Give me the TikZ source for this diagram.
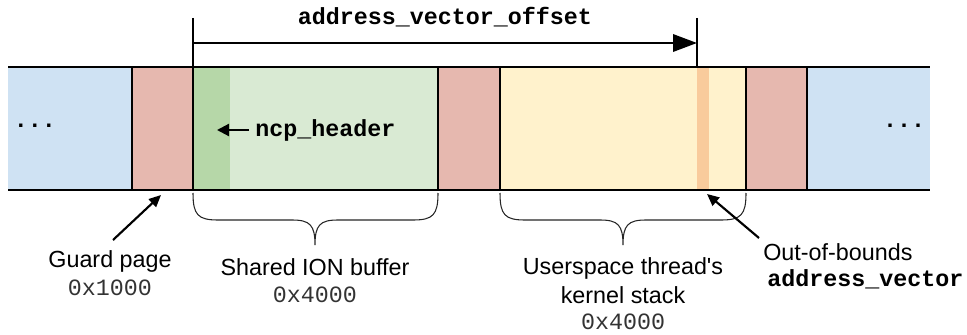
\documentclass[tikz,border=0pt]{standalone}
\usepackage{fontspec}
\setmainfont{Liberation Sans}
\setmonofont{Liberation Mono}
\newfontfamily\rawsans{Liberation Sans}
\usetikzlibrary{arrows.meta}
\definecolor{cblue}{HTML}{CFE2F3}
\definecolor{cred}{HTML}{E6B8AF}
\definecolor{cgreen}{HTML}{D9EAD3}
\definecolor{cgreenD}{HTML}{B6D7A8}
\definecolor{cyellow}{HTML}{FFF2CC}
\definecolor{corange}{HTML}{F9CB9C}
\definecolor{ctext}{HTML}{333333}
\tikzset{
  lbl/.style={font=\fontsize{17.5}{20}\selectfont, text=black, inner sep=0pt},
  hex/.style={font=\fontsize{17.5}{20}\selectfont\ttfamily, text=ctext, inner sep=0pt},
  code/.style={font=\fontsize{17.5}{20}\selectfont\ttfamily\bfseries, text=black, inner sep=0pt},
  thinsep/.style={line width=0.8pt},
  thicksep/.style={line width=1.6pt},
  bracepath/.style={line width=0.8pt, draw=black!85},
  ptr/.style={line width=1.6pt, -{Triangle[length=9pt,width=8pt]}},
}
\begin{document}
\begin{tikzpicture}[x=0.75pt,y=-0.75pt]
\useasboundingbox (0,0) rectangle (967,335);
% segments
\fill[cblue] (8,67) rectangle (132,190);
\fill[cred] (132,67) rectangle (193,190);
\fill[cgreen] (193,67) rectangle (438,190);
\fill[cgreenD] (193,67) rectangle (230,190);
\fill[cred] (438,67) rectangle (500,190);
\fill[cyellow] (500,67) rectangle (746,190);
\fill[corange] (697,67) rectangle (709,190);
\fill[cred] (746,67) rectangle (807,190);
\fill[cblue] (807,67) rectangle (930,190);
% separators
\draw[thinsep] (132,67) -- (132,190);
\draw[thinsep] (438,67) -- (438,190);
\draw[thinsep] (746,67) -- (746,190);
\draw[thicksep] (500,67) -- (500,190);
\draw[thicksep] (807,67) -- (807,190);
\draw[line width=1.8pt] (193,18) -- (193,190);
\draw[line width=1.8pt] (8,67) -- (930,67);
\draw[line width=1.8pt] (8,190) -- (930,190);
% dimension
\draw[line width=1.8pt] (697,18) -- (697,67);
\coordinate (dimL) at (193,43);
\coordinate (dimR) at (697,43);
\draw[line width=1.8pt, -{Triangle[length=18pt,width=13pt]}] (dimL) -- (dimR);
\node[code] (avo) at (445,17) {address\_vector\_offset};
% dots
\node[code] (dotsL) at (35,126) {...};
\node[code] (dotsR) at (904,126) {...};
% ncp header
\node[code, anchor=west] (ncp) at (255,130) {ncp\_header};
\coordinate (ncpT) at (217,130);
\draw[line width=1.6pt, -{Triangle[length=9pt,width=9pt]}] (ncp.west) ++(-6,0) -- (ncpT);
% braces
\draw[bracepath] (193,193) .. controls (193,215) and (198,220) .. (218,220) -- (292,220)
  .. controls (310,220) and (315,225) .. (315,245)
  .. controls (315,225) and (320,220) .. (338,220) -- (413,220)
  .. controls (433,220) and (438,215) .. (438,193);
\draw[bracepath] (500,193) .. controls (500,215) and (505,220) .. (525,220) -- (600,220)
  .. controls (618,220) and (623,225) .. (623,245)
  .. controls (623,225) and (628,220) .. (646,220) -- (721,220)
  .. controls (741,220) and (746,215) .. (746,193);
% labels
\node[lbl] (guard) at (110,261) {Guard page};
\node[hex] (guardhex) at (110,288) {0x1000};
\node[lbl] (ion) at (315,267) {Shared ION buffer};
\node[hex] (ionhex) at (315,295) {0x4000};
\node[lbl] (stack1) at (623,268) {Userspace thread{\rawsans '}s};
\node[lbl] (stack2) at (623,295) {kernel stack};
\node[hex] (stackhex) at (623,322) {0x4000};
\node[lbl, anchor=west] (oob) at (763,252) {Out-of-bounds};
\node[code, anchor=west] (av) at (767,279) {address\_vector};
% pointers
\coordinate (guardT) at (161,195);
\coordinate (oobT) at (707,194);
\draw[ptr] (113,240) -- (guardT);
\draw[ptr] (759,238) -- (oobT);
\end{tikzpicture}
\end{document}
